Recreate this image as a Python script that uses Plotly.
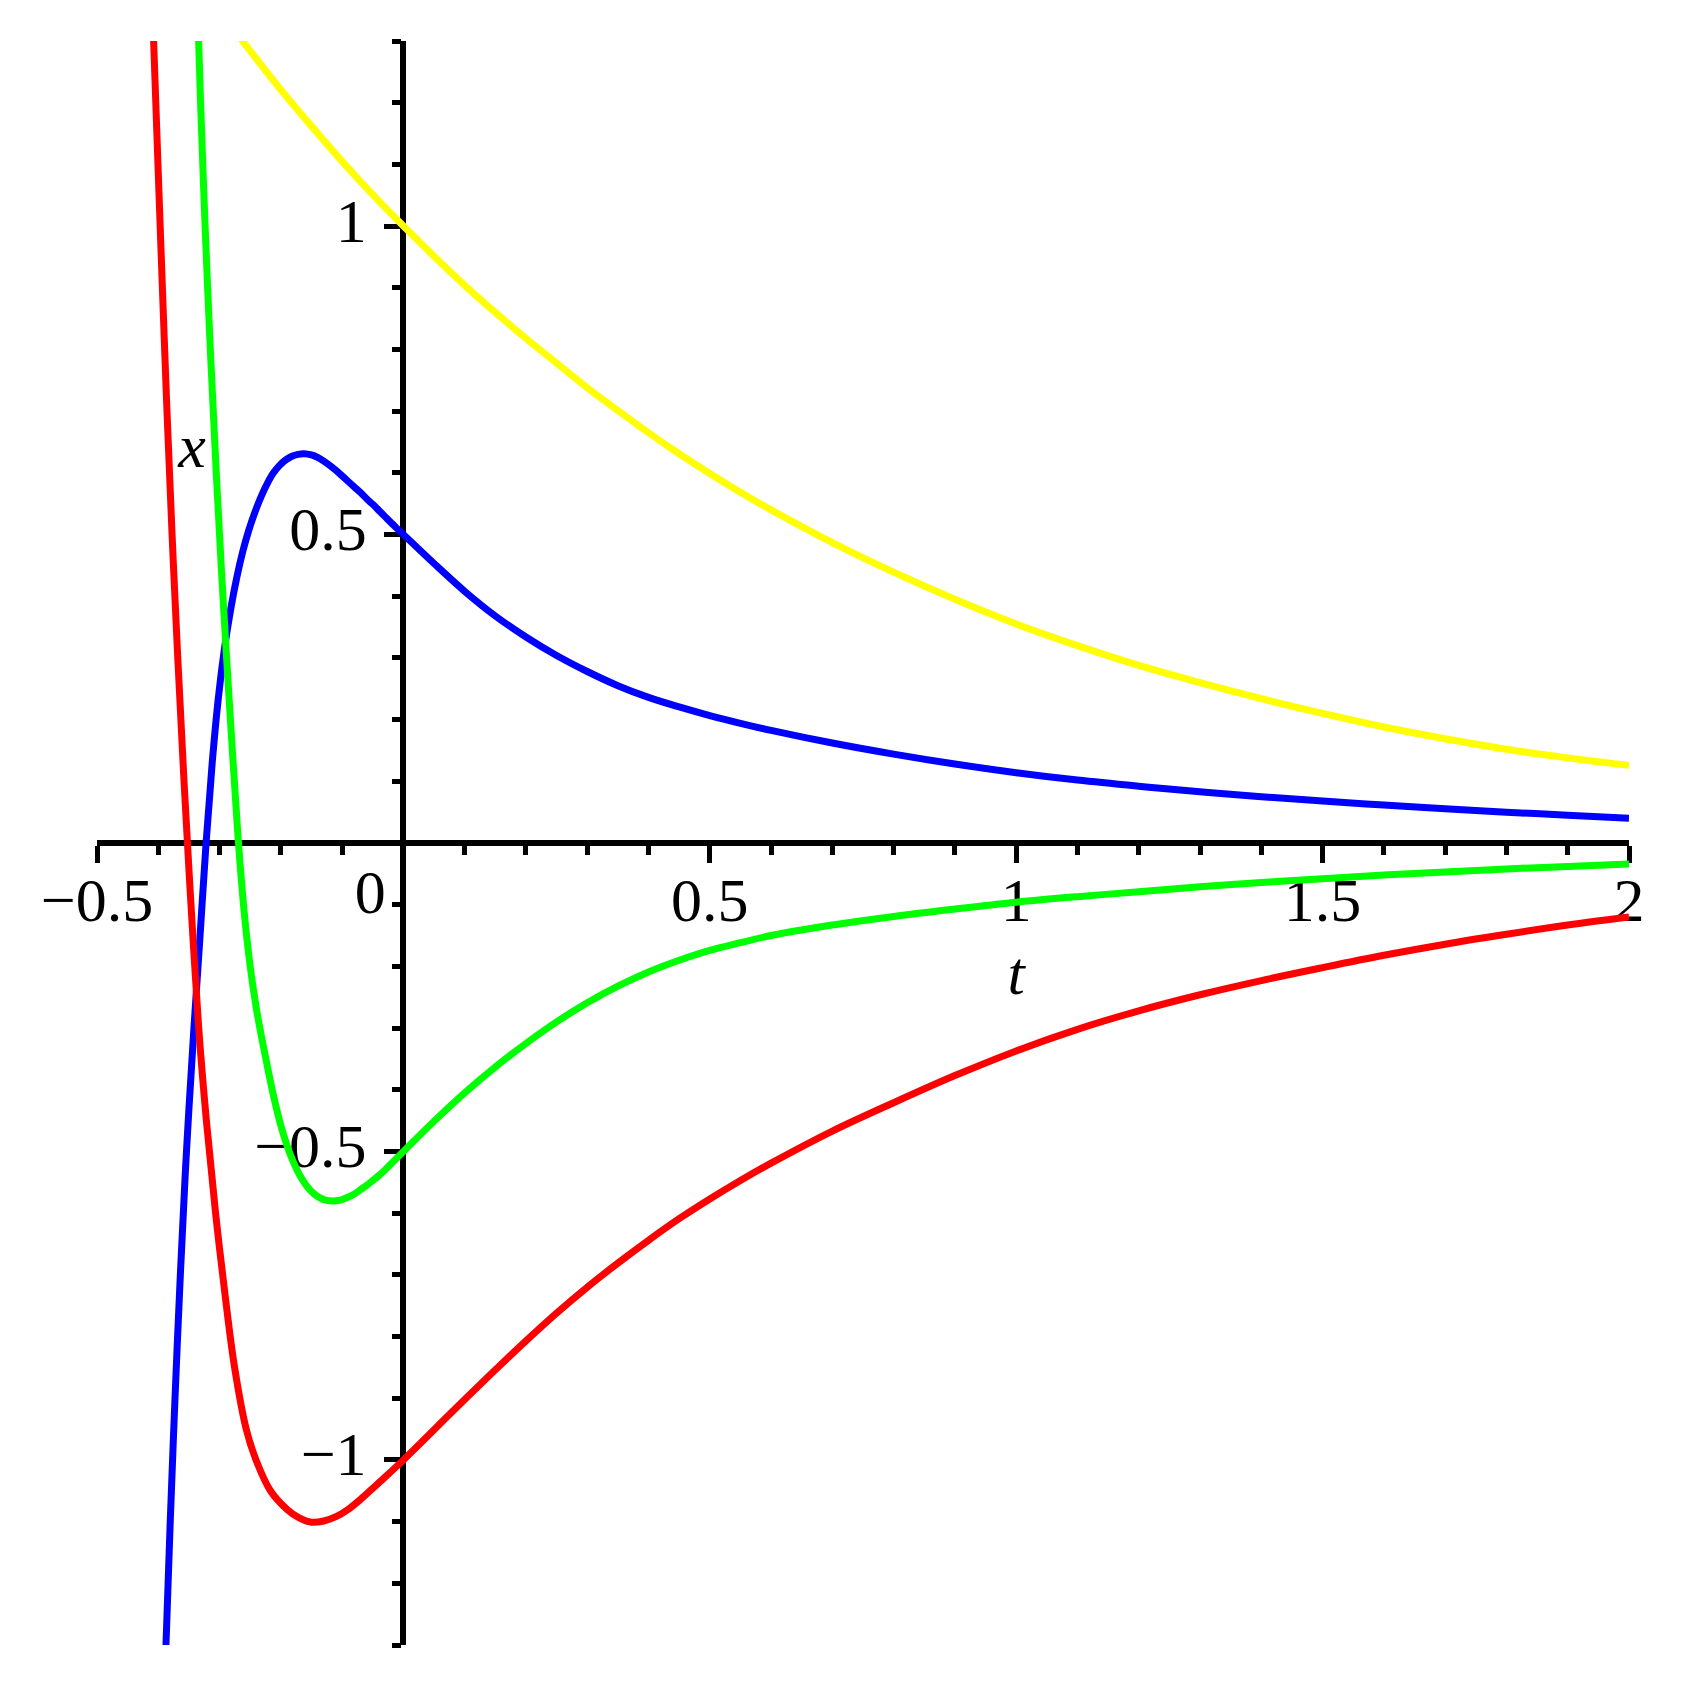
import plotly.graph_objects as go

# ---------------- data ----------------
blue_t = [-0.3885, -0.3805, -0.3727, -0.3640, -0.3540, -0.3418, -0.3318, -0.322,
          -0.312, -0.302, -0.292, -0.282, -0.272, -0.262, -0.252, -0.242, -0.232,
          -0.222, -0.212, -0.202, -0.192, -0.182, -0.172, -0.162, -0.15, -0.14,
          -0.13, -0.12, -0.11, -0.10, -0.09, -0.08, -0.07, -0.06, -0.05, -0.04,
          -0.03, -0.02, -0.01, 0.0, 0.05, 0.10, 0.15, 0.20, 0.25, 0.30, 0.35, 0.40,
          0.45, 0.50, 0.55, 0.60, 0.70, 0.80, 0.90, 1.00, 1.10, 1.20, 1.30, 1.40, 1.50,
          1.60, 1.70, 1.80, 1.90, 2.00]
blue_x = [-1.33, -1.10, -0.90, -0.70, -0.50, -0.30, -0.15, 0.0,
          0.13, 0.235, 0.315, 0.378, 0.430, 0.473, 0.508, 0.537, 0.562,
          0.583, 0.600, 0.612, 0.621, 0.627, 0.630, 0.631, 0.629, 0.625,
          0.619, 0.612, 0.604, 0.595, 0.586, 0.577, 0.568, 0.558, 0.549, 0.539,
          0.529, 0.519, 0.5095, 0.500, 0.453, 0.408, 0.368, 0.334, 0.304, 0.278, 0.255, 0.236,
          0.2205, 0.2065, 0.194, 0.1825, 0.162, 0.144, 0.128, 0.114, 0.102, 0.092, 0.083, 0.075, 0.068,
          0.0615, 0.0555, 0.050, 0.045, 0.040]

yellow_t = [-0.275, -0.25, -0.20, -0.15, -0.10, -0.05, 0.0, 0.05, 0.10, 0.15, 0.20,
            0.25, 0.30, 0.35, 0.40, 0.45, 0.50, 0.55, 0.60, 0.70, 0.80, 0.90, 1.00, 1.10,
            1.20, 1.30, 1.40, 1.50, 1.60, 1.70, 1.80, 1.90, 2.00]
yellow_x = [1.317, 1.284, 1.221, 1.162, 1.105, 1.051, 1.0, 0.951, 0.904, 0.860, 0.818,
            0.778, 0.738, 0.701, 0.665, 0.631, 0.599, 0.5685, 0.540, 0.487, 0.439, 0.395, 0.355, 0.320,
            0.288, 0.260, 0.234, 0.210, 0.188, 0.169, 0.152, 0.138, 0.126]

green_t = [-0.3354, -0.3310, -0.3236, -0.3151, -0.3054, -0.2945, -0.2823, -0.27,
           -0.26, -0.25, -0.24, -0.23, -0.22, -0.21, -0.20, -0.19, -0.18, -0.17,
           -0.16, -0.15, -0.14, -0.13, -0.12, -0.11, -0.10, -0.09, -0.08, -0.07,
           -0.06, -0.05, -0.04, -0.03, -0.02, -0.01, 0.0, 0.05, 0.10, 0.15, 0.20,
           0.25, 0.30, 0.35, 0.40, 0.45, 0.50, 0.55, 0.60, 0.70, 0.80, 0.90, 1.00, 1.10,
           1.20, 1.30, 1.40, 1.50, 1.60, 1.70, 1.80, 1.90, 2.00]
green_x = [1.34, 1.2, 1.0, 0.8, 0.6, 0.4, 0.2, 0.012,
           -0.110, -0.200, -0.268, -0.322, -0.372, -0.418, -0.458, -0.490, -0.516, -0.537,
           -0.553, -0.565, -0.573, -0.578, -0.580, -0.580, -0.578, -0.574, -0.569, -0.562,
           -0.555, -0.547, -0.539, -0.530, -0.520, -0.510, -0.500, -0.451, -0.405, -0.363, -0.325,
           -0.290, -0.259, -0.232, -0.209, -0.190, -0.174, -0.1615, -0.150, -0.133, -0.119, -0.107, -0.096, -0.087,
           -0.079, -0.071, -0.064, -0.058, -0.052, -0.047, -0.042, -0.038, -0.034]

red_t = [-0.4090, -0.4005, -0.3933, -0.3858, -0.3775, -0.3682, -0.3580, -0.3466,
         -0.3340, -0.3215, -0.3065, -0.2889, -0.2755, -0.2565, -0.2405, -0.217,
         -0.19, -0.17, -0.15, -0.13, -0.11, -0.09, -0.07, -0.05, -0.03, -0.01, 0.0,
         0.05, 0.10, 0.15, 0.20, 0.25, 0.30, 0.35, 0.40, 0.45, 0.50, 0.55, 0.60, 0.70,
         0.80, 0.90, 1.00, 1.10, 1.20, 1.30, 1.40, 1.50, 1.60, 1.70, 1.80, 1.90, 2.00]
red_x = [1.34, 1.1, 0.9, 0.7, 0.5, 0.3, 0.1, -0.1,
         -0.30, -0.45, -0.60, -0.75, -0.85, -0.95, -1.00, -1.05,
         -1.08, -1.094, -1.101, -1.099, -1.092, -1.080, -1.064, -1.046, -1.028, -1.0095, -1.0,
         -0.951, -0.902, -0.854, -0.807, -0.762, -0.720, -0.681, -0.644, -0.609, -0.577, -0.547, -0.519, -0.467,
         -0.421, -0.377, -0.337, -0.302, -0.272, -0.246, -0.223, -0.202, -0.182, -0.164, -0.148, -0.133, -0.120]

t_range = [-0.5, 2.0]
x_range = [-1.3, 1.3]

xtick_vals = [-0.5, 0.0, 0.5, 1.0, 1.5, 2.0]
xtick_text = ["\u22120.5", "0", "0.5", "1", "1.5", "2"]
ytick_vals = [1.0, 0.5, -0.5, -1.0]
ytick_text = ["1", "0.5", "\u22120.5", "\u22121"]

# ---------------- figure ----------------
FONT = "Liberation Serif, Times New Roman, serif"
FS = 62
fig = go.Figure()

# tick labels (drawn first so curves lie over them)
xl_x = [v if v != 0 else -0.054 for v in xtick_vals]
xl_y = [-0.102 if v != 0 else -0.088 for v in xtick_vals]
fig.add_trace(go.Scatter(x=xl_x, y=xl_y, mode="text", text=xtick_text,
                         textposition="middle center", hoverinfo="skip",
                         textfont=dict(family=FONT, size=FS, color="black"),
                         showlegend=False, cliponaxis=False))
fig.add_trace(go.Scatter(x=[-0.060] * len(ytick_vals), y=ytick_vals, mode="text",
                         text=ytick_text, textposition="middle left", hoverinfo="skip",
                         textfont=dict(family=FONT, size=FS, color="black"),
                         showlegend=False, cliponaxis=False))
# axis titles
fig.add_trace(go.Scatter(x=[1.0, -0.345], y=[-0.22, 0.635], mode="text",
                         text=["<i>t</i>", "<i>x</i>"], textposition="middle center",
                         hoverinfo="skip",
                         textfont=dict(family=FONT, size=FS, color="black"),
                         showlegend=False, cliponaxis=False))

LW = 7
for tt, xx, col in [(blue_t, blue_x, "#0000FF"), (yellow_t, yellow_x, "#FFFF00"),
                    (green_t, green_x, "#00FF00"), (red_t, red_x, "#FF0000")]:
    fig.add_trace(go.Scatter(x=tt, y=xx, mode="lines",
                             line=dict(color=col, width=LW, shape="spline", smoothing=1.0),
                             showlegend=False, hoverinfo="skip"))

xpos = (0 - x_range[0]) / (x_range[1] - x_range[0])
ypos = (0 - t_range[0]) / (t_range[1] - t_range[0])

axis_common = dict(showgrid=False, zeroline=False, showline=True, linecolor="black",
                   linewidth=5.5, ticks="outside", tickcolor="black", tickwidth=5,
                   ticklen=17, showticklabels=False, anchor="free",
                   layer="below traces", tickmode="linear", tick0=0, dtick=0.5,
                   minor=dict(dtick=0.1, ticks="outside", ticklen=9, tickwidth=5,
                              tickcolor="black"))

# the page body adds an 8px offset, margins compensate for it
fig.update_layout(
    width=1685, height=1707,
    margin=dict(l=89, r=64, t=33, b=70),
    paper_bgcolor="white", plot_bgcolor="white",
    xaxis=dict(range=t_range, position=xpos, **axis_common),
    yaxis=dict(range=x_range, position=ypos, **axis_common),
    showlegend=False,
)

fig.write_html("out.html")
